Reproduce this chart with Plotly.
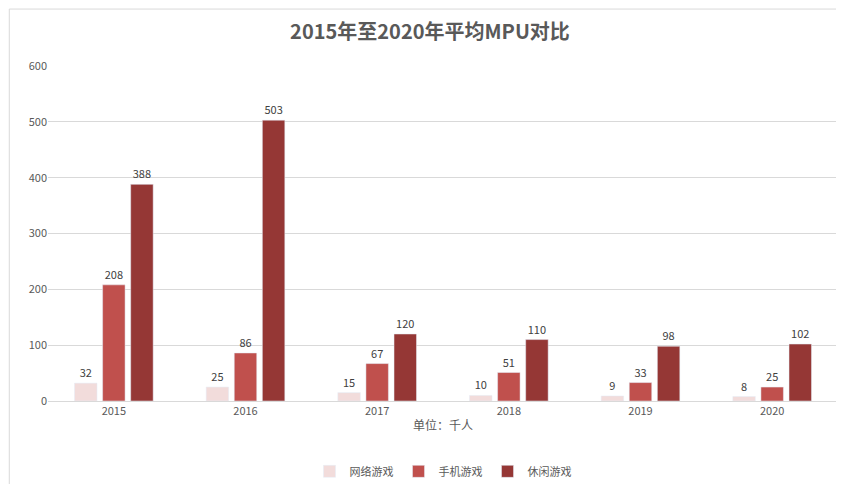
import plotly.graph_objects as go

years = ["2015", "2016", "2017", "2018", "2019", "2020"]
online = [32, 25, 15, 10, 9, 8]
mobile = [208, 86, 67, 51, 33, 25]
casual = [388, 503, 120, 110, 98, 102]

font = "Microsoft YaHei, Noto Sans CJK SC, sans-serif"
fig = go.Figure()
for name, vals, col in [("网络游戏", online, "#F2DCDB"),
                        ("手机游戏", mobile, "#C0504D"),
                        ("休闲游戏", casual, "#953735")]:
    fig.add_bar(x=years, y=vals, name=name, marker_color=col,
                text=vals, textposition="outside", cliponaxis=False,
                textfont=dict(size=11, color="#404040"))

fig.update_layout(
    width=844, height=484, paper_bgcolor="white", plot_bgcolor="white",
    font=dict(family=font, size=11, color="#595959"),
    title=dict(text="<b>2015年至2020年平均MPU对比</b>", x=0.5, y=0.95,
               xanchor="center", yanchor="middle", font=dict(size=20, color="#595959")),
    margin=dict(l=40, r=14, t=58, b=91, autoexpand=False),
    bargap=0.36, bargroupgap=0.2,
    legend=dict(orientation="h", x=0.5, xanchor="center", y=-0.21, yanchor="middle",
                font=dict(size=11), itemwidth=30, tracegroupgap=0),
    xaxis=dict(title=dict(text="单位：千人", font=dict(size=12), standoff=4),
               showline=True, linecolor="#D9D9D9", ticks="", automargin=False),
    yaxis=dict(range=[0, 600], dtick=100, gridcolor="#D9D9D9", zeroline=False,
               showline=False, automargin=False),
    shapes=[dict(type="rect", xref="paper", yref="paper", x0=-0.049, x1=1.016,
                 y0=-0.269, y1=1.17, line=dict(color="#D9D9D9", width=1))],
)
fig.write_html("out.html")
